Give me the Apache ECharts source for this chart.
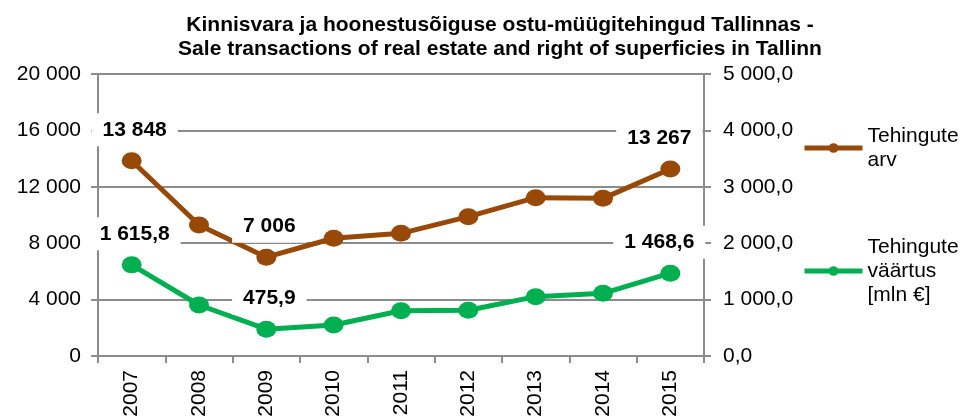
<!DOCTYPE html>
<html>
<head>
<meta charset="utf-8">
<script src="https://cdn.jsdelivr.net/npm/echarts@6/dist/echarts.min.js"></script>
<style>
  html, body { margin: 0; padding: 0; background: #fff; }
  #lineEchart { width: 963px; height: 417px; }
</style>
</head>
<body>
<div id="lineEchart"></div>
<script>
var years = ['2007', '2008', '2009', '2010', '2011', '2012', '2013', '2014', '2015'];
var tehinguteArv = [13848, 9290, 7006, 8350, 8700, 9880, 11230, 11180, 13267];
var tehinguteVaartus = [1615.8, 904, 475.9, 550, 803, 810, 1052, 1111, 1468.6];
var labelledPoints = [0, 2, 8];

function fmt(v, dec) {
	var s = v.toFixed(dec).split('.');
	var intPart = s[0].replace(/\B(?=(\d{3})+(?!\d))/g, ' ');
	return dec ? intPart + ',' + s[1] : intPart;
}

function withLabels(values, dec) {
	return values.map(function(v, i) {
		if (labelledPoints.indexOf(i) < 0) return v;
		return {
			value: v,
			label: {
				show: true,
				position: 'top',
				distance: 6,
				offset: i === values.length - 1 ? [-11, 0] : [3, 0],
				formatter: function(p) { return fmt(p.value, dec); },
				fontFamily: 'Liberation Sans, Arial',
				fontSize: 21,
				fontWeight: 'bold',
				color: '#000',
				backgroundColor: '#fff',
				padding: [6, 11]
			}
		};
	});
}

var myChart = echarts.init(document.getElementById('lineEchart'));

var font = 'Liberation Sans, Arial';
var grey = '#8c8c8c';

var option = {
	animation: false,
	title: {
		text: 'Kinnisvara ja hoonestusõiguse ostu-müügitehingud Tallinnas -\nSale transactions of real estate and right of superficies in Tallinn',
		left: 495,
		textAlign: 'center',
		top: 8,
		textStyle: {
			fontFamily: font,
			fontSize: 21,
			fontWeight: 'bold',
			color: '#000',
			lineHeight: 24
		}
	},
	legend: [
		{
			orient: 'vertical',
			left: 797,
			top: 119,
			itemWidth: 58,
			itemHeight: 12,
			itemGap: 4,
			lineStyle: { width: 5 },
			data: ['Tehingute\narv'],
			textStyle: { fontFamily: font, fontSize: 21, color: '#000', lineHeight: 24 }
		},
		{
			orient: 'vertical',
			left: 797,
			top: 230,
			itemWidth: 58,
			itemHeight: 12,
			itemGap: 4,
			lineStyle: { width: 5 },
			data: ['Tehingute\nväärtus\n[mln €]'],
			textStyle: { fontFamily: font, fontSize: 21, color: '#000', lineHeight: 24 }
		}
	],
	grid: {
		left: 98,
		right: 259,
		top: 74,
		bottom: 61,
		outerBoundsMode: 'none'
	},
	xAxis: {
		type: 'category',
		data: years,
		boundaryGap: true,
		axisLine: { lineStyle: { color: grey, width: 2 } },
		axisTick: { show: true, length: 7, lineStyle: { color: grey, width: 2 } },
		axisLabel: {
			rotate: 90,
			fontFamily: font,
			fontSize: 21,
			color: '#000',
			margin: 14
		}
	},
	yAxis: [
		{
			type: 'value',
			min: 0,
			max: 20000,
			interval: 4000,
			axisLine: { show: true, lineStyle: { color: grey, width: 2 } },
			axisTick: { show: true, length: 7, lineStyle: { color: grey, width: 2 } },
			splitLine: { show: true, lineStyle: { color: grey, width: 2 } },
			axisLabel: {
				fontFamily: font,
				fontSize: 21,
				color: '#000',
				margin: 17,
				formatter: function(v) { return fmt(v, 0); }
			}
		},
		{
			type: 'value',
			min: 0,
			max: 5000,
			interval: 1000,
			axisLine: { show: true, lineStyle: { color: grey, width: 2 } },
			axisTick: { show: true, length: 7, lineStyle: { color: grey, width: 2 } },
			splitLine: { show: false },
			axisLabel: {
				fontFamily: font,
				fontSize: 21,
				color: '#000',
				margin: 19,
				formatter: function(v) { return fmt(v, 1); }
			}
		}
	],
	series: [
		{
			name: 'Tehingute\narv',
			type: 'line',
			yAxisIndex: 0,
			data: withLabels(tehinguteArv, 0),
			symbol: 'circle',
			symbolSize: [20, 17],
			itemStyle: { color: '#984807' },
			lineStyle: { color: '#984807', width: 5 },
			z: 3
		},
		{
			name: 'Tehingute\nväärtus\n[mln €]',
			type: 'line',
			yAxisIndex: 1,
			data: withLabels(tehinguteVaartus, 1),
			symbol: 'circle',
			symbolSize: [20, 17],
			itemStyle: { color: '#00b050' },
			lineStyle: { color: '#00b050', width: 5 },
			z: 2
		}
	]
};

myChart.setOption(option);
</script>
</body>
</html>
